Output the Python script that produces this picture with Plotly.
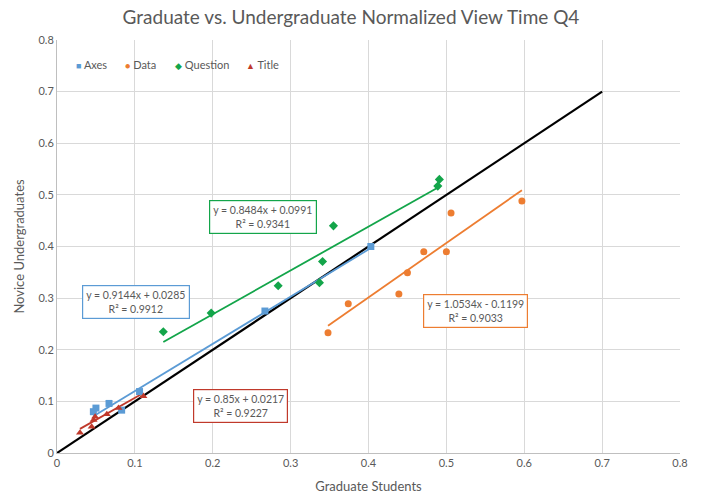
import plotly.graph_objects as go

# Data
axes_x = [0.0467, 0.050, 0.0668, 0.083, 0.106, 0.267, 0.403]
axes_y = [0.080, 0.087, 0.096, 0.083, 0.119, 0.275, 0.400]

data_x = [0.348, 0.374, 0.439, 0.450, 0.471, 0.500, 0.506, 0.597]
data_y = [0.233, 0.289, 0.308, 0.349, 0.390, 0.390, 0.465, 0.488]

question_x = [0.1365, 0.198, 0.284, 0.337, 0.341, 0.355, 0.489, 0.491]
question_y = [0.235, 0.271, 0.324, 0.330, 0.371, 0.440, 0.517, 0.530]

title_x = [0.0295, 0.0445, 0.047, 0.049, 0.064, 0.079, 0.111]
title_y = [0.039, 0.051, 0.064, 0.070, 0.075, 0.087, 0.110]

# Trendline coefficients (slope, intercept) and labels
trend = {
    "Axes": (0.9144, 0.0285, "y = 0.9144x + 0.0285<br>R² = 0.9912"),
    "Data": (1.0534, -0.1199, "y = 1.0534x - 0.1199<br>R² = 0.9033"),
    "Question": (0.8484, 0.0991, "y = 0.8484x + 0.0991<br>R² = 0.9341"),
    "Title": (0.85, 0.0217, "y = 0.85x + 0.0217<br>R² = 0.9227"),
}
ref_x = [0, 0.7]
ref_y = [0, 0.7]

x_ticks = [0, 0.1, 0.2, 0.3, 0.4, 0.5, 0.6, 0.7, 0.8]
x_tick_text = ["0", "0.1", "0.2", "0.3", "0.4", "0.5", "0.6", "0.7", "0.8"]

colors = {"Axes": "#5B9BD5", "Data": "#ED7D31", "Question": "#13A54A", "Title": "#C0392B"}
symbols = {"Axes": "square", "Data": "circle", "Question": "diamond", "Title": "triangle-up"}
legend_glyph = {"Axes": "■", "Data": "●", "Question": "◆", "Title": "▲"}
series = {
    "Axes": (axes_x, axes_y),
    "Data": (data_x, data_y),
    "Question": (question_x, question_y),
    "Title": (title_x, title_y),
}
label_pos = {"Axes": (0.102, 0.293), "Data": (0.537, 0.276), "Question": (0.265, 0.457), "Title": (0.235, 0.092)}
legend_px = {"Axes": 74, "Data": 123, "Question": 173, "Title": 244}

fig = go.Figure()

# reference y = x line
fig.add_trace(go.Scatter(x=ref_x, y=ref_y, mode="lines", line=dict(color="black", width=2.2),
                         showlegend=False, hoverinfo="skip"))

for name, (xs, ys) in series.items():
    m, b, _ = trend[name]
    x0, x1 = min(xs), max(xs)
    fig.add_trace(go.Scatter(x=[x0, x1], y=[m * x0 + b, m * x1 + b], mode="lines",
                             line=dict(color=colors[name], width=1.8), showlegend=False, hoverinfo="skip"))

for name, (xs, ys) in series.items():
    fig.add_trace(go.Scatter(x=xs, y=ys, mode="markers", name=name, showlegend=False,
                             marker=dict(color=colors[name], symbol=symbols[name], size=7)))

for name, (m, b, txt) in trend.items():
    lx, ly = label_pos[name]
    fig.add_annotation(x=lx, y=ly, text=txt, showarrow=False, xref="x", yref="y",
                       font=dict(family="Lato", size=10.5, color="#595959"),
                       bordercolor=colors[name], borderwidth=1.2, borderpad=3,
                       bgcolor="white", align="center")

# compact legend
for name in series:
    px = legend_px[name]
    fig.add_annotation(x=(px - 57) / 623, y=(453 - 65) / 413, xref="paper", yref="paper",
                       xanchor="left", yanchor="middle", showarrow=False,
                       text=f"<span style='color:{colors[name]}; font-size:9px'>{legend_glyph[name]}</span> {name}",
                       font=dict(family="Lato", size=11, color="#595959"))

fig.update_layout(
    width=702, height=504,
    margin=dict(l=57, r=22, t=40, b=51),
    paper_bgcolor="white", plot_bgcolor="white",
    title=dict(text="Graduate vs. Undergraduate Normalized View Time Q4",
               font=dict(family="Lato", size=19, color="#595959"),
               x=0.5, xanchor="center", y=0.966, yanchor="middle"),
    font=dict(family="Lato", color="#595959"),
    showlegend=False,
    xaxis=dict(range=[0, 0.8], tickvals=x_ticks, ticktext=x_tick_text,
               showgrid=True, gridcolor="#D9D9D9", gridwidth=1,
               showline=True, linecolor="#BFBFBF", zeroline=False, ticks="",
               tickfont=dict(size=11, color="#595959"),
               title=dict(text="Graduate Students", font=dict(size=13, color="#595959"), standoff=13)),
    yaxis=dict(range=[0, 0.8], tickvals=x_ticks, ticktext=x_tick_text,
               showgrid=True, gridcolor="#D9D9D9", gridwidth=1,
               showline=True, linecolor="#BFBFBF", zeroline=False, ticks="",
               tickfont=dict(size=11, color="#595959"),
               title=dict(text="Novice Undergraduates", font=dict(size=13, color="#595959"), standoff=10)),
)

fig.write_html("out.html")
